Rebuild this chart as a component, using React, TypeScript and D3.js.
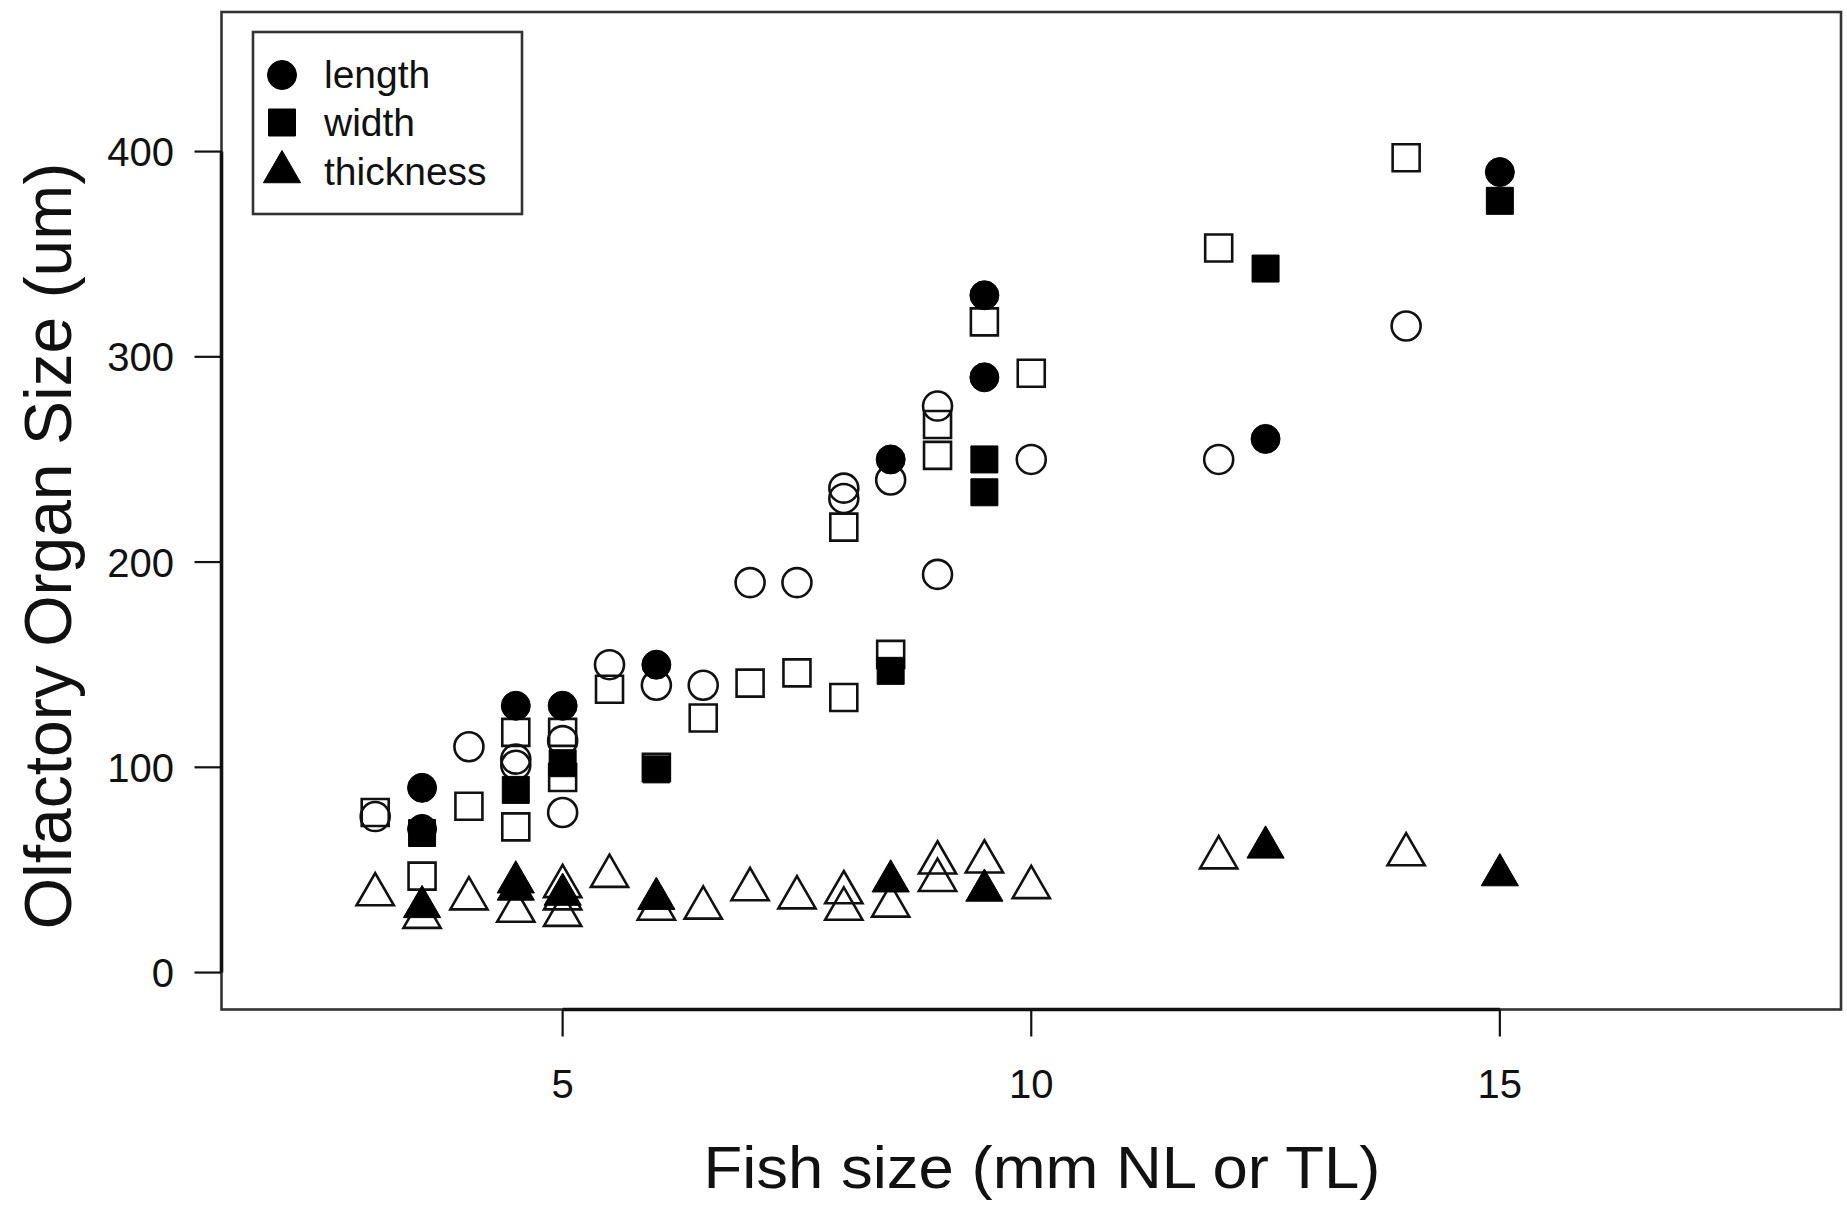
import React from "react";
import * as d3 from "d3";

// ---------- data ----------
const xTicks = [5, 10, 15];
const yTicks = [0, 100, 200, 300, 400];
const xLim = [2, 18];
const yLim = [0, 450];

const xTitle = "Fish size (mm NL or TL)";
const yTitle = "Olfactory Organ Size (um)";
const legendLabels = ["length", "width", "thickness"];

// open symbols (group A), filled symbols (group B): [fish size, organ size]
const lengthOpen: [number, number][] = [
  [3, 76], [4, 110], [4.5, 104], [4.5, 101], [5, 113], [5, 78], [5.5, 150], [6, 140],
  [6.5, 140], [7, 190], [7.5, 190], [8, 236], [8, 231], [8.5, 240], [9, 276], [9, 194],
  [10, 250], [12, 250], [14, 315],
];
const lengthFilled: [number, number][] = [
  [3.5, 90], [3.5, 70], [4.5, 130], [5, 130], [6, 150], [8.5, 250], [9.5, 330], [9.5, 290],
  [12.5, 260], [15, 390],
];
const widthOpen: [number, number][] = [
  [3, 78], [3.5, 47], [4, 81], [4.5, 117], [4.5, 71], [5, 117], [5, 95], [5.5, 138],
  [6, 100], [6.5, 124], [7, 141], [7.5, 146], [8, 217], [8, 134], [8.5, 155], [9, 267],
  [9, 252], [9.5, 317], [10, 292], [12, 353], [14, 397],
];
const widthFilled: [number, number][] = [
  [3.5, 68], [4.5, 89], [5, 102], [6, 99], [8.5, 147], [9.5, 250], [9.5, 234], [12.5, 343],
  [15, 376],
];
const thicknessOpen: [number, number][] = [
  [3, 38], [3.5, 27], [4, 36], [4.5, 30], [5, 42], [5, 36], [5, 28], [5.5, 47], [6, 31],
  [6.5, 31.5], [7, 40.5], [7.5, 36.5], [8, 39], [8, 31], [8.5, 32.5], [9, 53.5], [9, 45],
  [9.5, 54], [10, 41.5], [12, 56], [14, 57.5],
];
const thicknessFilled: [number, number][] = [
  [3.5, 32], [4.5, 44], [4.5, 40.5], [5, 38], [6, 36], [8.5, 44.5], [9.5, 40], [12.5, 61],
  [15, 47.5],
];

// ---------- layout ----------
const W = 1847;
const H = 1209;
const box = { left: 221.5, right: 1841, top: 12, bottom: 1009.5 };
const FONT = "'Liberation Sans', Arial, Helvetica, sans-serif";
const INK = "#111";

const xPad = (xLim[1] - xLim[0]) * 0.04;
const yPad = (yLim[1] - yLim[0]) * 0.04;
const x = d3.scaleLinear().domain([xLim[0] - xPad, xLim[1] + xPad]).range([box.left, box.right]);
const y = d3.scaleLinear().domain([yLim[0] - yPad, yLim[1] + yPad]).range([box.bottom, box.top]);

const circlePath = d3.symbol().type(d3.symbolCircle).size(Math.PI * 14.5 * 14.5)()!;
const squarePath = d3.symbol().type(d3.symbolSquare).size(27 * 27)()!;
const trianglePath = d3.symbol().type(d3.symbolTriangle).size(600)()!;

const series = [
  { data: lengthOpen, path: circlePath, filled: false },
  { data: widthOpen, path: squarePath, filled: false },
  { data: thicknessOpen, path: trianglePath, filled: false },
  { data: lengthFilled, path: circlePath, filled: true },
  { data: widthFilled, path: squarePath, filled: true },
  { data: thicknessFilled, path: trianglePath, filled: true },
];
const legendPaths = [circlePath, squarePath, trianglePath];

export default function App() {
  const tickLen = 27;
  return (
    <svg
      width={W}
      height={H}
      viewBox={`0 0 ${W} ${H}`}
      style={{ position: "absolute", left: 0, top: 0, display: "block", background: "#fff" }}
      fontFamily={FONT}
    >
      <rect x={0} y={0} width={W} height={H} fill="#fff" />

      {/* plot box */}
      <rect
        x={box.left}
        y={box.top}
        width={box.right - box.left}
        height={box.bottom - box.top}
        fill="none"
        stroke="#333"
        strokeWidth={2.6}
      />

      {/* x axis */}
      <line x1={x(xTicks[0])} x2={x(xTicks[xTicks.length - 1])} y1={box.bottom} y2={box.bottom} stroke={INK} strokeWidth={3.6} />
      {xTicks.map((t) => (
        <g key={"xt" + t}>
          <line x1={x(t)} x2={x(t)} y1={box.bottom} y2={box.bottom + tickLen} stroke={INK} strokeWidth={2.2} />
          <text x={x(t)} y={1098} textAnchor="middle" fontSize={40} fill={INK}>
            {t}
          </text>
        </g>
      ))}

      {/* y axis */}
      <line x1={box.left} x2={box.left} y1={y(yTicks[0])} y2={y(yTicks[yTicks.length - 1])} stroke={INK} strokeWidth={3.6} />
      {yTicks.map((t) => (
        <g key={"yt" + t}>
          <line x1={box.left - tickLen} x2={box.left} y1={y(t)} y2={y(t)} stroke={INK} strokeWidth={2.2} />
          <text x={174} y={y(t) + 14.5} textAnchor="end" fontSize={40} fill={INK}>
            {t}
          </text>
        </g>
      ))}

      {/* axis titles */}
      <text x={1042} y={1188} textAnchor="middle" fontSize={60} fill={INK} textLength={677} lengthAdjust="spacingAndGlyphs">
        {xTitle}
      </text>
      <text
        transform={`translate(71, 546) rotate(-90)`}
        textAnchor="middle"
        fontSize={66}
        fill={INK}
      >
        {yTitle}
      </text>

      {/* points */}
      {series.map((s, si) => (
        <g key={"s" + si}>
          {s.data.map(([vx, vy], i) => (
            <path
              key={i}
              d={s.path}
              transform={`translate(${x(vx)},${y(vy)})`}
              fill={s.filled ? "#000" : "none"}
              stroke={s.filled ? "#000" : INK}
              strokeWidth={s.filled ? 1 : 2.6}
            />
          ))}
        </g>
      ))}

      {/* legend */}
      <rect x={253} y={32} width={269} height={182} fill="#fff" stroke="#333" strokeWidth={2.6} />
      {legendLabels.map((lab, i) => {
        const ry = [75, 122.5, 172][i];
        return (
          <g key={lab}>
            <path d={legendPaths[i]} transform={`translate(282,${ry})`} fill="#000" stroke="#000" strokeWidth={1} />
            <text x={324} y={ry + 13} fontSize={39} fill={INK}>
              {lab}
            </text>
          </g>
        );
      })}
    </svg>
  );
}
